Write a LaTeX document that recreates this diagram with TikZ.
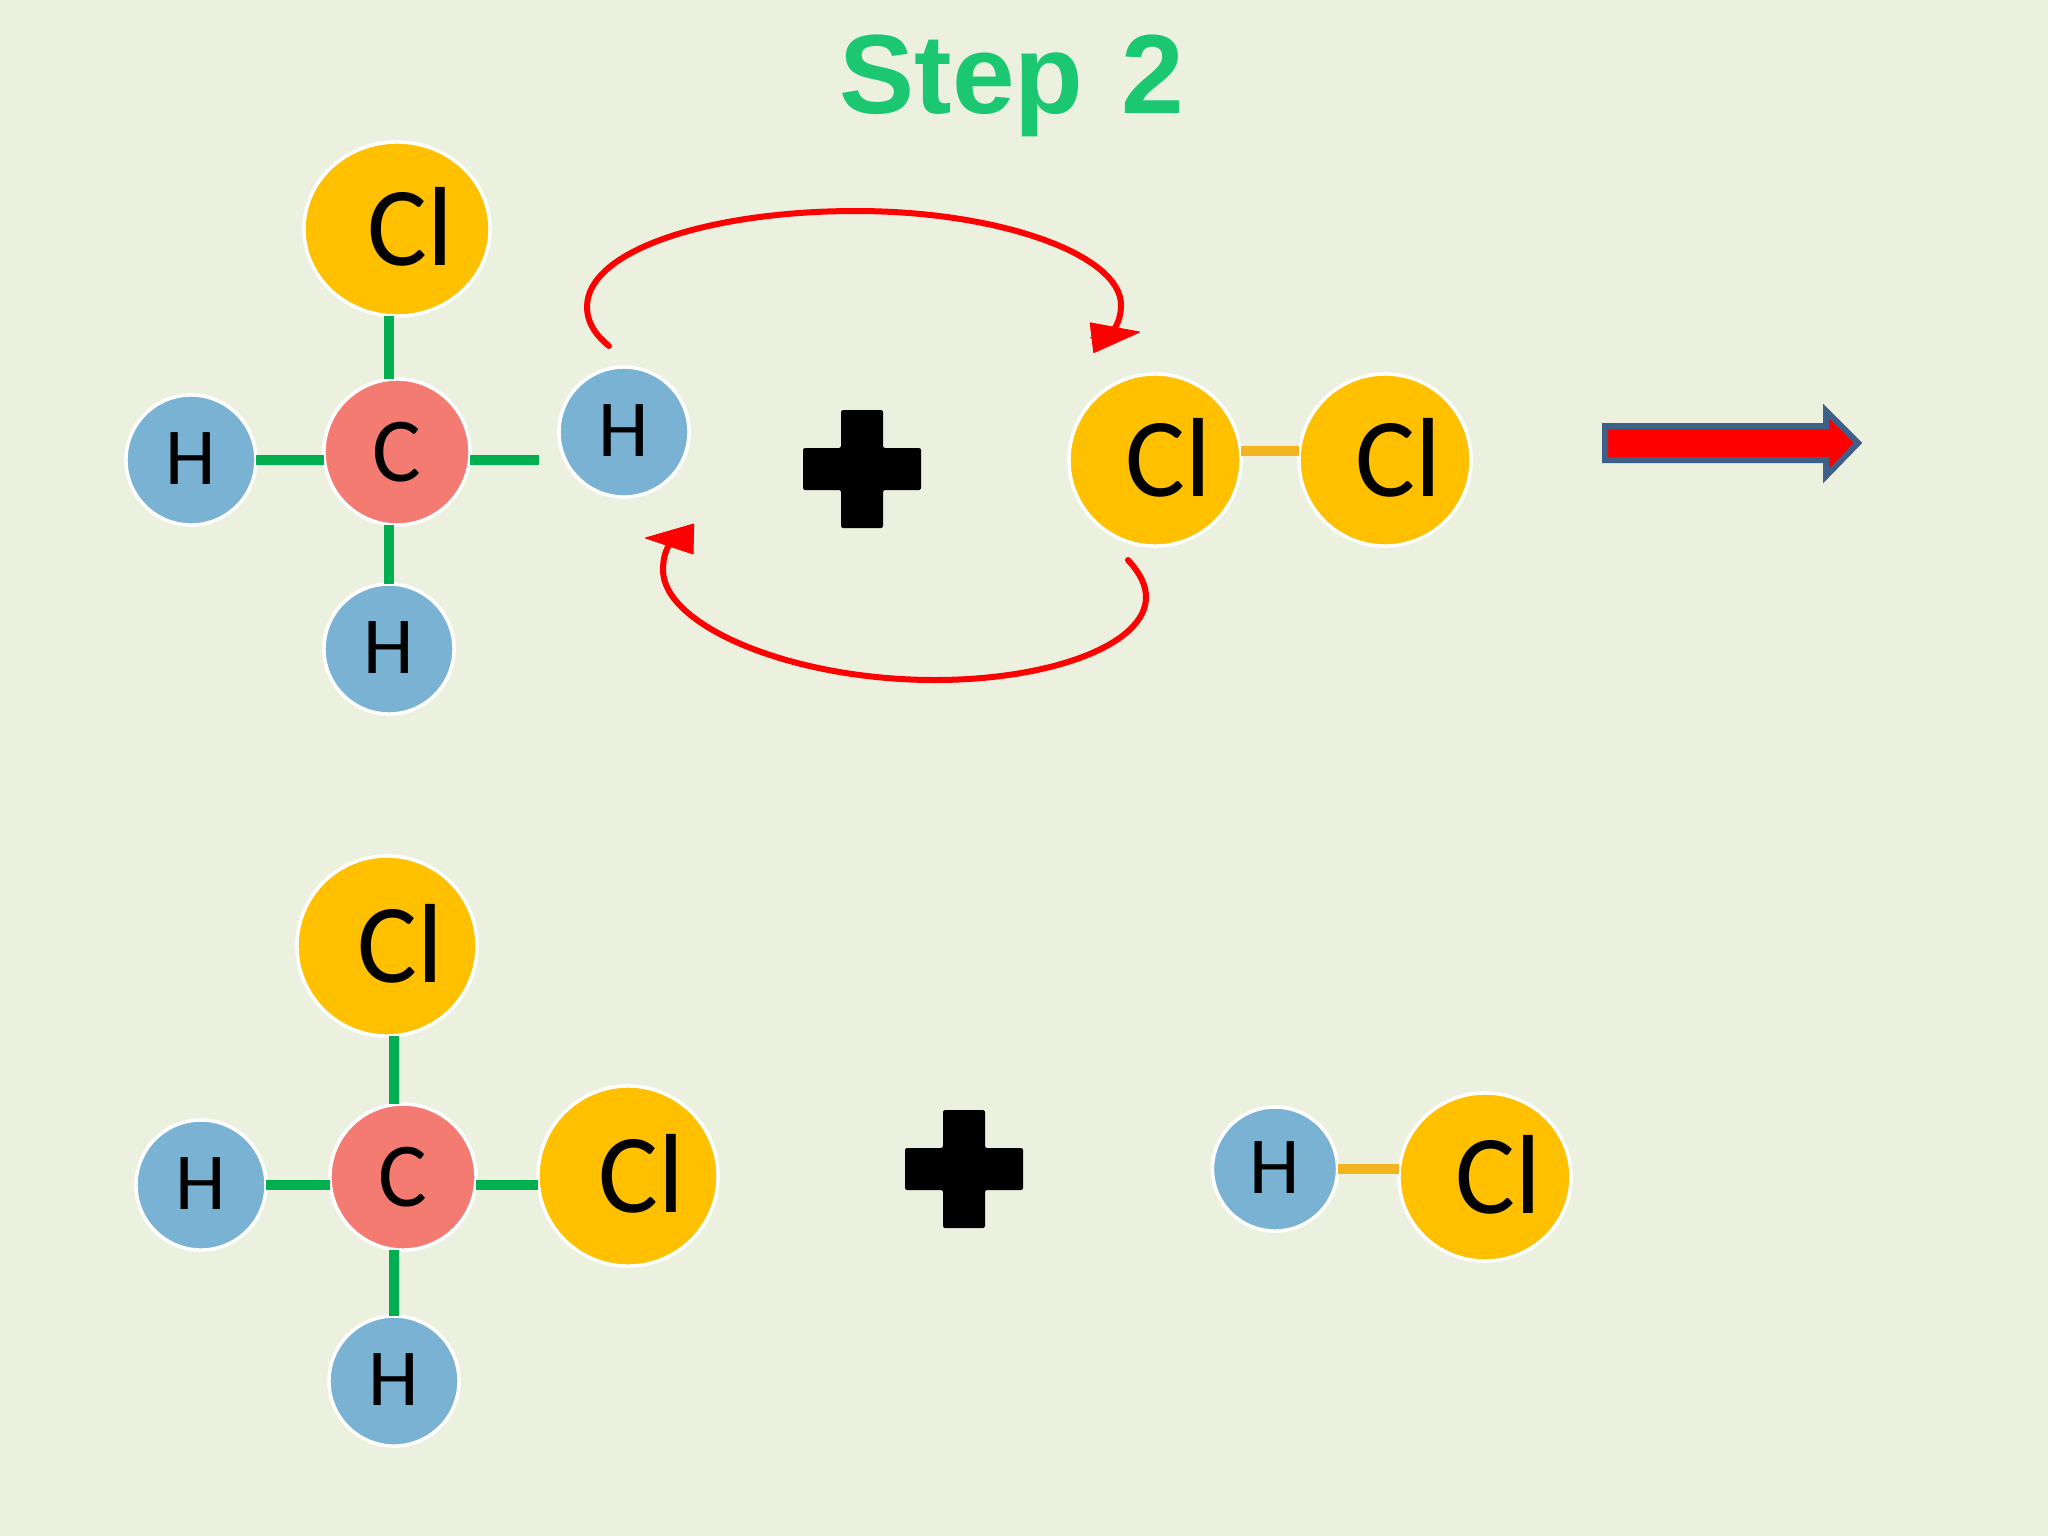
\documentclass[tikz,border=0pt]{standalone}
\usepackage{fontspec}
\setmainfont{Carlito}
\newfontfamily\titlefont{Liberation Sans}
\usetikzlibrary{shapes.geometric,arrows.meta}
\definecolor{slidebg}{HTML}{ECF0DF}
\definecolor{clyellow}{HTML}{FFC000}
\definecolor{hblue}{HTML}{7AB2D3}
\definecolor{csalmon}{HTML}{F47B72}
\definecolor{bondgreen}{HTML}{00B050}
\definecolor{bondorange}{HTML}{F2B51F}
\definecolor{arrowblue}{HTML}{3E6088}
\definecolor{titlegreen}{HTML}{1CC772}
\tikzset{
  atom/.style={ellipse,draw=white,line width=1pt,inner sep=0pt,outer sep=0pt,text=black},
  hatom/.style={atom,fill=hblue,minimum width=1.3cm,minimum height=1.3cm,font=\fontsize{23}{23}\selectfont},
  catom/.style={atom,fill=csalmon,minimum width=1.46cm,minimum height=1.46cm,font=\fontsize{26}{26}\selectfont},
  clatom/.style={atom,fill=clyellow,minimum width=1.72cm,minimum height=1.72cm,font=\fontsize{32}{32}\selectfont},
  greenbond/.style={bondgreen,line width=0.1cm},
  orangebond/.style={bondorange,line width=0.1cm},
  curvearrow/.style={red,line width=0.06cm,line cap=round},
  curvehead/.style={red,line width=0.01cm,-{Triangle[length=0.5cm,width=0.31cm,round]}},
}
\newcommand{\cltxt}{\hspace{0.26cm}\raisebox{0.05cm}{Cl}}
\newcommand{\htxt}{\raisebox{0.03cm}{H}}
\newcommand{\plusmark}[1]{\fill[black,rounded corners=0.6pt,shift={(#1)}]
  (-21,-59) -- (21,-59) -- (21,-21) -- (59,-21) -- (59,21) -- (21,21)
  -- (21,59) -- (-21,59) -- (-21,21) -- (-59,21) -- (-59,-21) -- (-21,-21) -- cycle;}
\begin{document}
\begin{tikzpicture}[x=0.01cm,y=-0.01cm]
\fill[slidebg] (0,0) rectangle (2048,1536);
\useasboundingbox (0,0) rectangle (2048,1536);
\node[text=titlegreen,font=\titlefont\bfseries\fontsize{32}{32}\selectfont] (title) at (1012,86) {Step\hspace{0.07cm} 2};

% Reactants
\node[clatom,minimum width=1.86cm,minimum height=1.74cm] (cla) at (397,229) {\cltxt};
\node[catom] (ca) at (397,452) {C};
\node[hatom] (hl) at (191,460) {\htxt};
\node[hatom] (hb) at (389,649) {\htxt};
\node[hatom] (hr) at (624,432) {\htxt};
\node[clatom] (clb) at (1155,460) {\cltxt};
\node[clatom] (clc) at (1385,460) {\cltxt};
\coordinate (bondend) at (539,460);
\draw[greenbond] (hb |- cla.south) -- (hb |- ca.north);
\draw[greenbond] (hl.east) -- (ca.west |- hl.east);
\draw[greenbond] (hb.north) -- (hb |- ca.south);
\draw[greenbond] (ca.east |- bondend) -- (bondend);
\draw[orangebond] ([yshift=0.09cm]clb.east) -- ([yshift=0.09cm]clc.west);
\plusmark{862,469}

% Exchange arrows
\coordinate (hstart) at (609,346);
\coordinate (topend) at (1112,332);
\coordinate (topbase) at (1090,338);
\coordinate (toptip) at (1140,332);
\coordinate (clstart) at (1128,560);
\coordinate (botend) at (669,545);
\coordinate (botbase) at (693,539);
\coordinate (bottip) at (645,538);
\draw[curvearrow] (hstart) .. controls (593,333) and (587,320) .. (587,307)
  .. controls (587,250) and (710,211) .. (856,211)
  .. controls (1000,211) and (1121,255) .. (1121,305)
  .. controls (1121,315) and (1118,325) .. (topend);
\draw[curvehead] (topbase) -- (toptip);
\draw[curvearrow] (clstart) .. controls (1140,573) and (1146,585) .. (1146,597)
  .. controls (1146,645) and (1050,680) .. (935,680)
  .. controls (790,680) and (663,625) .. (663,570)
  .. controls (663,560) and (665,552) .. (botend);
\draw[curvehead] (botbase) -- (bottip);

% Reaction arrow
\draw[arrowblue,fill=red,line width=0.06cm,miter limit=10] (1605,426) -- (1826,426) -- (1826,411)
  -- (1858,443) -- (1826,476) -- (1826,460) -- (1605,460) -- cycle;

% Products
\node[clatom,minimum width=1.8cm,minimum height=1.8cm] (cld) at (387,946) {\cltxt};
\node[catom] (cb) at (403,1177) {C};
\node[hatom] (hm) at (201,1185) {\htxt};
\node[hatom] (hn) at (394,1381) {\htxt};
\node[clatom,minimum width=1.8cm,minimum height=1.8cm] (cle) at (628,1176) {\cltxt};
\node[hatom,minimum width=1.25cm,minimum height=1.24cm] (hp) at (1275,1169) {\htxt};
\node[clatom,minimum width=1.72cm,minimum height=1.68cm] (clf) at (1485,1177) {\cltxt};
\draw[greenbond] (hn |- cld.south) -- (hn |- cb.north);
\draw[greenbond] (hm.east) -- (cb.west |- hm.east);
\draw[greenbond] (hn.north) -- (hn |- cb.south);
\draw[greenbond] (cb.east |- hm.east) -- (cle.west |- hm.east);
\draw[orangebond] (hp.east) -- (clf.west |- hp.east);
\plusmark{964,1169}
\end{tikzpicture}
\end{document}
